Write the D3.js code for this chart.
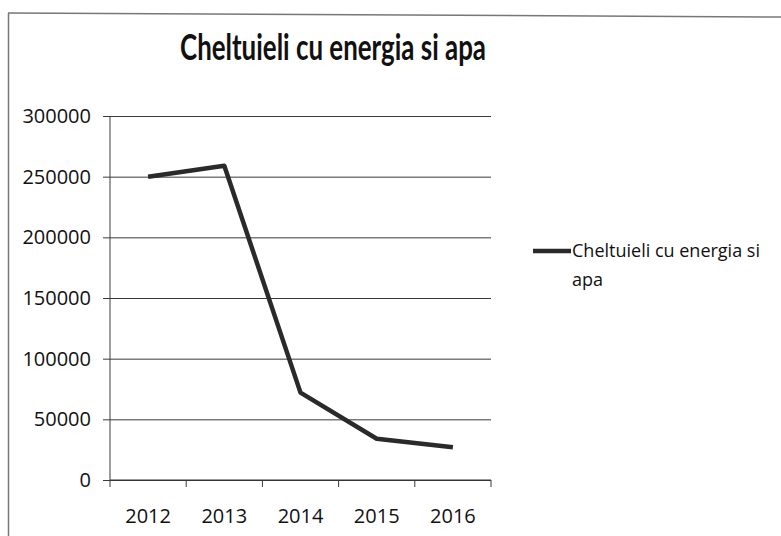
<!DOCTYPE html>
<html>
<head>
<meta charset="utf-8">
<script src="https://cdn.jsdelivr.net/npm/d3@7"></script>
<style>
 body { margin: 0; background: #fff; }
 svg { display: block; }
 text { font-family: "Open Sans", Lato, sans-serif; fill: #111; }
</style>
</head>
<body>
<div id="chart"></div>
<script>
// Chart data
var years = ["2012", "2013", "2014", "2015", "2016"];
var costs = [250000, 259000, 72000, 34000, 27000];
var yTicks = [0, 50000, 100000, 150000, 200000, 250000, 300000];
var seriesName = ["Cheltuieli cu energia si", "apa"];
var titleText = "Cheltuieli cu energia si apa";

var W = 781, H = 536;
var plot = {left: 110, right: 491, top: 116, bottom: 480};

var svg = d3.select("#chart").append("svg")
    .attr("width", W)
    .attr("height", H);

// frame (only top and left edges show in the scan)
svg.append("line")
    .attr("x1", 8).attr("y1", 13).attr("x2", 781).attr("y2", 17)
    .style("stroke", "#777").style("stroke-width", 1.5);
svg.append("line")
    .attr("x1", 8.5).attr("y1", 13).attr("x2", 8.5).attr("y2", 536)
    .style("stroke", "#777").style("stroke-width", 1.5);

var x = d3.scaleBand()
    .domain(years)
    .range([plot.left, plot.right]);

var y = d3.scaleLinear()
    .domain([0, 300000])
    .range([plot.bottom, plot.top]);

// gridlines + y axis
var yAxis = d3.axisLeft(y)
    .tickValues(yTicks)
    .tickFormat(d3.format("d"))
    .tickSize(-(plot.right - plot.left));

var gy = svg.append("g")
    .attr("transform", "translate(" + plot.left + ",0)")
    .call(yAxis);
gy.select(".domain").remove();
gy.selectAll(".tick line")
    .attr("x1", -7)
    .style("stroke", "#3a3a3a").style("stroke-width", 1);
gy.selectAll(".tick text")
    .attr("x", -19)
    .style("font-size", "20px")
    .style("font-family", "\"Open Sans\", sans-serif");

// vertical axis line
svg.append("line")
    .attr("x1", plot.left).attr("x2", plot.left)
    .attr("y1", plot.top).attr("y2", plot.bottom)
    .style("stroke", "#3a3a3a");

// x axis with ticks at band edges
var gx = svg.append("g")
    .attr("transform", "translate(0," + plot.bottom + ")")
    .call(d3.axisBottom(x).tickSize(0).tickPadding(29));
gx.select(".domain")
    .attr("d", "M" + plot.left + ",0H" + plot.right)
    .style("stroke", "#333");
gx.selectAll(".tick text")
    .style("font-size", "20px")
    .style("font-family", "\"Open Sans\", sans-serif");

var edges = years.map(function(d) { return x(d); }).concat([plot.right]);
gx.selectAll(".edge")
    .data(edges)
  .enter().append("line")
    .attr("class", "edge")
    .attr("x1", function(d) { return d; })
    .attr("x2", function(d) { return d; })
    .attr("y1", 0).attr("y2", 7)
    .style("stroke", "#3a3a3a");

// series line
var line = d3.line()
    .x(function(d, i) { return x(years[i]) + x.bandwidth() / 2; })
    .y(function(d) { return y(d); });

svg.append("path")
    .datum(costs)
    .attr("d", line)
    .style("fill", "none")
    .style("stroke", "#2a2a2a")
    .style("stroke-width", 4.5)
    .style("stroke-linejoin", "round");

// title
svg.append("text")
    .attr("x", 180)
    .attr("y", 60)
    .attr("textLength", 306)
    .attr("lengthAdjust", "spacingAndGlyphs")
    .style("font-family", "Lato, \"Open Sans\", sans-serif")
    .style("font-size", "36px")
    .style("font-weight", "bold")
    .text(titleText);

// legend
svg.append("line")
    .attr("x1", 533).attr("x2", 571)
    .attr("y1", 251).attr("y2", 251)
    .style("stroke", "#2a2a2a").style("stroke-width", 4.5);

var leg = svg.append("text")
    .attr("x", 572)
    .attr("y", 257)
    .style("font-size", "18px");
leg.selectAll("tspan")
    .data(seriesName)
  .enter().append("tspan")
    .attr("x", 572)
    .attr("dy", function(d, i) { return i ? 29 : 0; })
    .text(function(d) { return d; });
</script>
</body>
</html>
